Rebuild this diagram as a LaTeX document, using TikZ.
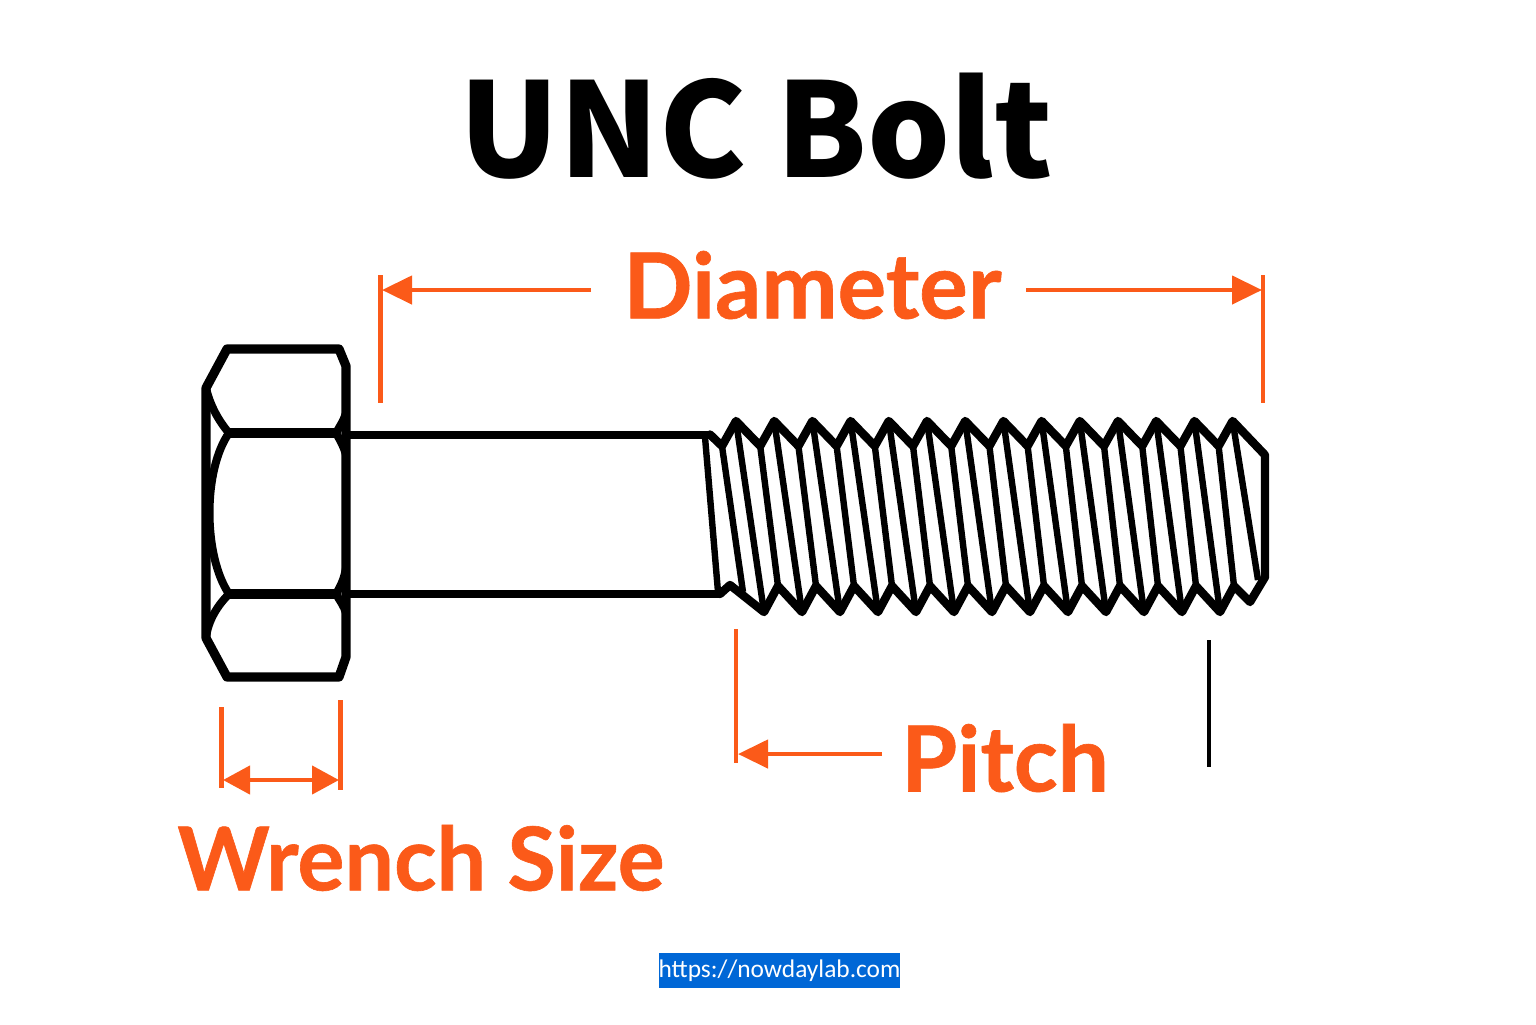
\documentclass[tikz,border=0pt]{standalone}
\usepackage{fontspec}
\setmainfont{Lato}[BoldFeatures={FakeBold=0.7}]
\newfontfamily\titlefont{Noto Sans CJK SC}
\newfontfamily\linkfont{Carlito}
\usetikzlibrary{arrows.meta}
\definecolor{dimorange}{HTML}{FB5A19}
\definecolor{linkblue}{HTML}{0067D6}
\tikzset{
  headline/.style={draw=black,line width=4.6pt,line join=round,line cap=round},
  headarc/.style={draw=black,line width=4pt,line cap=round},
  shank/.style={draw=black,line width=4pt},
  threadline/.style={draw=black,line width=4.2pt,line join=round,line cap=round},
  helix/.style={draw=black,line width=3.2pt,line cap=butt},
  extline/.style={draw=dimorange,line width=2.4pt},
  dimarrow/.style={draw=dimorange,line width=2.2pt,-{Triangle[length=15pt,width=14pt,fill=dimorange]}},
  dimboth/.style={draw=dimorange,line width=2.2pt,{Triangle[length=13.5pt,width=14pt,fill=dimorange]}-{Triangle[length=13.5pt,width=14pt,fill=dimorange]}},
  title/.style={font=\titlefont\fontsize{65.4}{66}\selectfont\bfseries,text=black,inner sep=0pt},
  dimtext/.style={font=\fontsize{44}{44}\selectfont\bfseries,text=dimorange,inner sep=0pt},
  dimtextb/.style={font=\fontsize{45.5}{46}\selectfont\bfseries,text=dimorange,inner sep=0pt}
}
\begin{document}
\begin{tikzpicture}[x=0.5pt,y=-0.5pt]
\useasboundingbox (0,0) rectangle (1536,1024);
\node[title] (ttl) at (756,126) {UNC Bolt};
\node[dimtextb] (dia) at (812.5,285) {Diameter};
\node[dimtextb] (pit) at (1005,758) {Pitch};
\node[dimtext] (wre) at (421,858) {Wrench Size};
\node[fill=linkblue,text=white,font=\linkfont\fontsize{12.7}{13}\selectfont,minimum width=119.5pt,minimum height=17.5pt,inner sep=0pt] (lnk) at (779.5,970.5) {https://nowdaylab.com};
% head
\coordinate (h1) at (227,349);
\coordinate (h2) at (339,349);
\coordinate (h3) at (346,366);
\coordinate (h4) at (346,657);
\coordinate (h5) at (339,677);
\coordinate (h6) at (227,677);
\coordinate (h7) at (206,638);
\coordinate (h8) at (206,388);
\coordinate (u1) at (229,433);
\coordinate (u2) at (336,433);
\coordinate (l1) at (229,594);
\coordinate (l2) at (336,594);
\draw[headline] (h1) -- (h2) -- (h3) -- (h4) -- (h5) -- (h6) -- (h7) -- (h8) -- cycle;
\draw[headline] (u1) -- (u2);
\draw[headline] (l1) -- (l2);
\draw[headarc] (h8) .. controls (210,405) and (218,420) .. (u1);
\draw[headarc] (u1) .. controls (203,470) and (203,555) .. (l1);
\draw[headarc] (l1) .. controls (218,605) and (208,620) .. (h7);
\draw[headarc] (u2) .. controls (340,426) and (344,420) .. (346,413);
\draw[headarc] (u2) .. controls (340,440) and (344,447) .. (346,455);
\draw[headarc] (l2) .. controls (340,587) and (344,580) .. (346,568);
\draw[headarc] (l2) .. controls (340,601) and (344,606) .. (346,613);
% shank
\coordinate (s1) at (346,434.5);
\coordinate (s2) at (710,434.5);
\coordinate (s3) at (346,594);
\coordinate (s4) at (720,594);
\draw[shank] (s1) -- (s2);
\draw[shank] (s3) -- (s4);
% thread points
\foreach \i in {0,...,13}{
  \pgfmathsetmacro{\cx}{736+38.2*\i}
  \pgfmathsetmacro{\vx}{\cx-14}
  \coordinate (tc\i) at (\cx,421);
  \coordinate (tv\i) at (\vx,446);
}
\foreach \j in {0,...,12}{
  \pgfmathsetmacro{\cx}{764+38*\j}
  \pgfmathsetmacro{\vx}{\cx+14}
  \coordinate (bc\j) at (\cx,612);
  \coordinate (bv\j) at (\vx,586);
}
\coordinate (e1) at (1265,455);
\coordinate (e2) at (1265,577);
\coordinate (e3) at (1250,602);
\coordinate (b0) at (730,585);
\coordinate (hs) at (705,437);
\coordinate (he) at (718,592);
\coordinate (ha) at (743,592);
\coordinate (hl) at (1258,580);
\draw[threadline] (s2) \foreach \i in {0,...,13}{ -- (tv\i) -- (tc\i) } -- (e1) -- (e2) -- (e3)
  \foreach \j in {12,11,...,0}{ -- (bv\j) -- (bc\j) } -- (b0) -- (s4);
\draw[draw=black,line width=2.6pt] (1265.5,455) -- (1265.5,577);
% helix lines
\draw[helix] (hs) -- (he);
\draw[helix] (tv0) -- (ha);
\foreach \i [evaluate=\i as \k using int(\i-1)] in {1,...,13}{
  \draw[helix] (tv\i) -- (bv\k);
}
\foreach \i in {0,...,12}{
  \draw[helix] (tc\i) -- (bc\i);
}
\draw[helix] (tc13) -- (hl);
% dimensions
\coordinate (da) at (380.5,275);
\coordinate (db) at (380.5,403);
\coordinate (dc) at (1263,275);
\coordinate (dd) at (1263,403);
\coordinate (d1) at (591,290);
\coordinate (d2) at (382,290);
\coordinate (d3) at (1026,290);
\coordinate (d4) at (1262,290);
\draw[extline] (da) -- (db);
\draw[extline] (dc) -- (dd);
\draw[dimarrow] (d1) -- (d2);
\draw[dimarrow] (d3) -- (d4);
\coordinate (wa) at (221.5,707);
\coordinate (wb) at (221.5,788);
\coordinate (wc) at (340.5,700);
\coordinate (wd) at (340.5,790);
\coordinate (w1) at (223,780);
\coordinate (w2) at (339,780);
\draw[extline] (wa) -- (wb);
\draw[extline] (wc) -- (wd);
\draw[dimboth] (w1) -- (w2);
\coordinate (pa) at (736,629);
\coordinate (pb) at (736,763);
\coordinate (p1) at (882,754);
\coordinate (p2) at (738,754);
\coordinate (qa) at (1209,640);
\coordinate (qb) at (1209,767);
\draw[extline] (pa) -- (pb);
\draw[dimarrow] (p1) -- (p2);
\draw[draw=black,line width=2pt] (qa) -- (qb);
\end{tikzpicture}
\end{document}
